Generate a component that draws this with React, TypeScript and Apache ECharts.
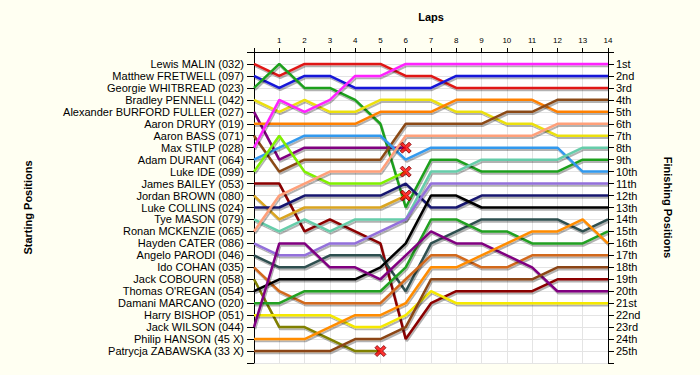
import React, { useEffect, useRef } from "react";
import * as echarts from "echarts";

// Lap numbers (0 = start)
const lapTicks = [0, 1, 2, 3, 4, 5, 6, 7, 8, 9, 10, 11, 12, 13, 14];

// Starting grid (position 1..25)
const startNames = [
  "Lewis MALIN (032)",
  "Matthew FRETWELL (097)",
  "Georgie WHITBREAD (023)",
  "Bradley PENNELL (042)",
  "Alexander BURFORD FULLER (027)",
  "Aaron DRURY (019)",
  "Aaron BASS (071)",
  "Max STILP (028)",
  "Adam DURANT (064)",
  "Luke IDE (099)",
  "James BAILEY (053)",
  "Jordan BROWN (080)",
  "Luke COLLINS (024)",
  "Tye MASON (079)",
  "Ronan MCKENZIE (065)",
  "Hayden CATER (086)",
  "Angelo PARODI (046)",
  "Ido COHAN (035)",
  "Jack COBOURN (058)",
  "Thomas O'REGAN (054)",
  "Damani MARCANO (020)",
  "Harry BISHOP (051)",
  "Jack WILSON (044)",
  "Philip HANSON (45 X)",
  "Patrycja ZABAWSKA (33 X)",
];

const finishLabels = [
  "1st", "2nd", "3rd", "4th", "5th", "6th", "7th", "8th", "9th", "10th",
  "11th", "12th", "13th", "14th", "15th", "16th", "17th", "18th", "19th", "20th",
  "21st", "22nd", "23rd", "24th", "25th",
];

// Position of each driver at the end of each lap (index = lap)
const malin = [1, 2, 1, 1, 1, 1, 2, 2, 3, 3, 3, 3, 3, 3, 3];
const fretwell = [2, 3, 2, 2, 3, 3, 3, 3, 2, 2, 2, 2, 2, 2, 2];
const whitbread = [3, 1, 3, 3, 4, 6, 13, 9, 9, 10, 10, 10, 10, 9, 9];
const pennell = [4, 5, 4, 5, 5, 4, 4, 4, 5, 5, 6, 6, 7, 7, 7];
const burfordFuller = [5, 9, 8, 8, 8, 8, 8];
const drury = [6, 6, 6, 6, 6, 5, 5, 5, 4, 4, 4, 4, 5, 5, 5];
const bass = [7, 10, 9, 9, 9, 9, 6, 6, 6, 6, 5, 5, 4, 4, 4];
const stilp = [8, 4, 5, 4, 2, 2, 1, 1, 1, 1, 1, 1, 1, 1, 1];
const durant = [9, 8, 7, 7, 7, 7, 9, 8, 8, 8, 8, 8, 8, 10, 10];
const ide = [10, 7, 10, 11, 11, 11, 10];
const bailey = [11, 11, 15, 14, 15, 16, 24, 21, 20, 20, 20, 20, 19, 19, 19];
const brown = [12, 14, 13, 13, 13, 13, 12];
const collins = [13, 13, 12, 12, 12, 12, 11, 13, 13, 12, 12, 12, 12, 12, 12];
const mason = [14, 15, 14, 15, 14, 14, 14, 10, 10, 9, 9, 9, 9, 8, 8];
const mckenzie = [15, 12, 11, 10, 10, 10, 7, 7, 7, 7, 7, 7, 6, 6, 6];
const cater = [16, 17, 17, 16, 16, 15, 14, 11, 11, 11, 11, 11, 11, 11, 11];
const parodi = [17, 18, 18, 17, 17, 17, 20, 16, 15, 14, 14, 14, 14, 15, 14];
const cohan = [18, 20, 21, 21, 21, 21, 19, 17, 17, 18, 18, 17, 17, 17, 17];
const cobourn = [19, 23, 23, 24, 25, 25];
const oregan = [20, 19, 19, 19, 19, 18, 16, 12, 12, 13, 13, 13, 13, 13, 13];
const marcano = [21, 21, 20, 20, 20, 20, 18, 14, 14, 15, 15, 16, 16, 16, 15];
const bishop = [22, 22, 22, 22, 23, 23, 22, 20, 21, 21, 21, 21, 21, 21, 21];
const wilson = [23, 16, 16, 18, 18, 19, 17, 15, 16, 16, 17, 18, 20, 20, 20];
const hanson = [24, 24, 24, 23, 22, 22, 21, 18, 18, 17, 16, 15, 15, 14, 16];
const zabawska = [25, 25, 25, 25, 24, 24, 23, 19, 19, 19, 19, 19, 18, 18, 18];

const driverPositions = [
  malin, fretwell, whitbread, pennell, burfordFuller, drury, bass, stilp,
  durant, ide, bailey, brown, collins, mason, mckenzie, cater, parodi, cohan,
  cobourn, oregan, marcano, bishop, wilson, hanson, zabawska,
];

const lineColors = [
  "#e01818", "#1515d8", "#1fa01f", "#ece010", "#800080", "#ff8000", "#8b4a14",
  "#ff22ff", "#3399ee", "#80f000", "#8b0000", "#daa520", "#191970", "#66cdaa",
  "#ffa07a", "#9370db", "#2f4f4f", "#d2691e", "#808000", "#000000", "#20a020",
  "#f5e800", "#800080", "#ff8c00", "#8b4513",
];

const FONT = "'Liberation Sans', Arial, sans-serif";
const X_SYMBOL =
  "path://M2,0 L5,3 L8,0 L10,2 L7,5 L10,8 L8,10 L5,7 L2,10 L0,8 L3,5 L0,2 Z";

export default function App() {
  const ref = useRef<HTMLDivElement>(null);

  useEffect(() => {
    if (!ref.current) return;
    const chart = echarts.init(ref.current, null, { renderer: "svg" });

    const lastLap = lapTicks[lapTicks.length - 1];
    const lineSeries = driverPositions.map((arr, i) => ({
      type: "line",
      name: startNames[i],
      data: arr.map((p, lap) => [lap, p]),
      symbol: "none",
      silent: true,
      z: 3,
      lineStyle: {
        color: lineColors[i],
        width: 2.5,
        shadowColor: "rgba(0,0,0,0.3)",
        shadowBlur: 1,
        shadowOffsetX: 1,
        shadowOffsetY: 2,
      },
      itemStyle: { color: lineColors[i] },
    }));

    const retired = driverPositions
      .filter((arr) => arr.length - 1 < lastLap)
      .map((arr) => [arr.length - 1, arr[arr.length - 1]]);

    const yAxisCommon = {
      type: "value",
      min: 0,
      max: 26,
      interval: 1,
      inverse: true,
      nameLocation: "middle",
      nameTextStyle: { fontWeight: "bold", fontSize: 11, color: "#000", fontFamily: FONT },
      axisLine: { show: true, lineStyle: { color: "#000", width: 1 } },
      splitLine: { show: true, lineStyle: { color: "#e4e4e4", width: 1 } },
    };

    chart.setOption({
      animation: false,
      backgroundColor: "#fffff2",
      textStyle: { fontFamily: FONT },
      grid: {
        left: 254,
        right: 92,
        top: 52,
        bottom: 12,
        show: true,
        backgroundColor: "#ffffff",
        borderWidth: 0,
      },
      xAxis: {
        type: "value",
        position: "top",
        min: 0,
        max: lastLap,
        interval: 1,
        name: "Laps",
        nameLocation: "middle",
        nameGap: 30,
        nameTextStyle: { fontWeight: "bold", fontSize: 11, color: "#000", fontFamily: FONT },
        axisLine: { show: true, lineStyle: { color: "#000", width: 1 } },
        axisTick: { show: true, length: 4, lineStyle: { color: "#000" } },
        axisLabel: {
          fontSize: 8,
          color: "#000",
          margin: 8,
          fontFamily: FONT,
          formatter: (v: number) => (v === 0 ? "" : String(v)),
        },
        splitLine: { show: true, lineStyle: { color: "#e4e4e4", width: 1 } },
      },
      yAxis: [
        {
          ...yAxisCommon,
          position: "left",
          name: "Starting Positions",
          nameGap: 221,
          nameRotate: 90,
          axisTick: { show: true, length: 7, lineStyle: { color: "#000" } },
          axisLabel: {
            fontSize: 11,
            color: "#000",
            margin: 10,
            fontFamily: FONT,
            formatter: (v: number) => startNames[v - 1] || "",
          },
        },
        {
          ...yAxisCommon,
          position: "right",
          name: "Finishing Positions",
          nameGap: 54,
          nameRotate: -90,
          splitLine: { show: false },
          axisTick: { show: true, length: 6, lineStyle: { color: "#000" } },
          axisLabel: {
            fontSize: 11,
            color: "#000",
            margin: 8,
            fontFamily: FONT,
            formatter: (v: number) => finishLabels[v - 1] || "",
          },
        },
      ],
      series: [
        ...lineSeries,
        {
          type: "scatter",
          data: retired,
          symbol: X_SYMBOL,
          symbolSize: 11,
          silent: true,
          z: 5,
          itemStyle: { color: "#ff0000", borderColor: "#7a0000", borderWidth: 1 },
        },
      ],
    });

    return () => chart.dispose();
  }, []);

  return (
    <div
      ref={ref}
      style={{ position: "fixed", left: 0, top: 0, width: 700, height: 375 }}
    />
  );
}
